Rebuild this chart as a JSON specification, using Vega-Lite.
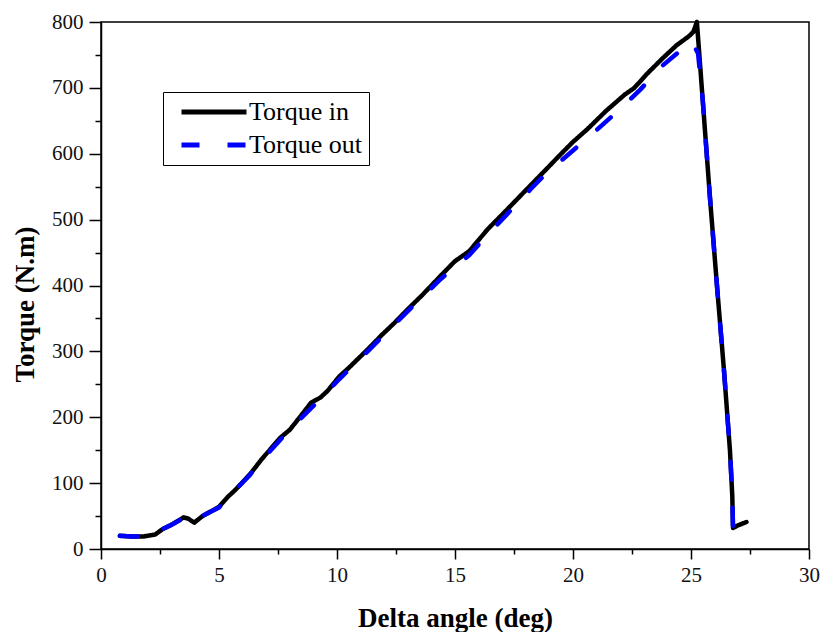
{
  "$schema": "https://vega.github.io/schema/vega-lite/v6.json",
  "autosize": {"type": "none"},
  "padding": {"left": 101, "top": 22, "right": 13, "bottom": 83},
  "width": 708,
  "height": 527,
  "background": "white",
  "config": {
    "font": "Liberation Serif",
    "view": {"stroke": "black", "strokeWidth": 1.5},
    "axis": {
      "grid": false,
      "domainColor": "black",
      "domainWidth": 1.5,
      "tickColor": "black",
      "tickWidth": 1.5,
      "labelFont": "Liberation Serif",
      "labelFontSize": 21,
      "labelColor": "#111",
      "titleFont": "Liberation Serif",
      "titleFontSize": 27,
      "titleFontWeight": "bold",
      "titleColor": "black"
    }
  },
  "datasets": {
    "torque": [
      {"a": 0.8, "t": 20, "s": "Torque in"},
      {"a": 1.3, "t": 19, "s": "Torque in"},
      {"a": 1.8, "t": 19, "s": "Torque in"},
      {"a": 2.3, "t": 22, "s": "Torque in"},
      {"a": 2.6, "t": 30, "s": "Torque in"},
      {"a": 3.0, "t": 37, "s": "Torque in"},
      {"a": 3.5, "t": 48, "s": "Torque in"},
      {"a": 3.7, "t": 46, "s": "Torque in"},
      {"a": 3.95, "t": 40, "s": "Torque in"},
      {"a": 4.3, "t": 50, "s": "Torque in"},
      {"a": 5.0, "t": 64, "s": "Torque in"},
      {"a": 5.4, "t": 80, "s": "Torque in"},
      {"a": 5.7, "t": 90, "s": "Torque in"},
      {"a": 6.3, "t": 113, "s": "Torque in"},
      {"a": 6.5, "t": 122, "s": "Torque in"},
      {"a": 6.8, "t": 136, "s": "Torque in"},
      {"a": 7.6, "t": 169, "s": "Torque in"},
      {"a": 8.0, "t": 181, "s": "Torque in"},
      {"a": 8.4, "t": 199, "s": "Torque in"},
      {"a": 8.9, "t": 222, "s": "Torque in"},
      {"a": 9.3, "t": 230, "s": "Torque in"},
      {"a": 9.6, "t": 240, "s": "Torque in"},
      {"a": 10.1, "t": 262, "s": "Torque in"},
      {"a": 10.5, "t": 275, "s": "Torque in"},
      {"a": 11.3, "t": 303, "s": "Torque in"},
      {"a": 11.9, "t": 325, "s": "Torque in"},
      {"a": 12.4, "t": 342, "s": "Torque in"},
      {"a": 13.0, "t": 364, "s": "Torque in"},
      {"a": 13.6, "t": 385, "s": "Torque in"},
      {"a": 14.4, "t": 415, "s": "Torque in"},
      {"a": 15.0, "t": 437, "s": "Torque in"},
      {"a": 15.6, "t": 452, "s": "Torque in"},
      {"a": 16.4, "t": 486, "s": "Torque in"},
      {"a": 17.2, "t": 515, "s": "Torque in"},
      {"a": 18.2, "t": 552, "s": "Torque in"},
      {"a": 18.8, "t": 574, "s": "Torque in"},
      {"a": 19.5, "t": 600, "s": "Torque in"},
      {"a": 20.0, "t": 618, "s": "Torque in"},
      {"a": 20.6, "t": 637, "s": "Torque in"},
      {"a": 21.4, "t": 665, "s": "Torque in"},
      {"a": 22.2, "t": 690, "s": "Torque in"},
      {"a": 22.6, "t": 700, "s": "Torque in"},
      {"a": 23.1, "t": 720, "s": "Torque in"},
      {"a": 23.8, "t": 745, "s": "Torque in"},
      {"a": 24.4, "t": 765, "s": "Torque in"},
      {"a": 24.9, "t": 778, "s": "Torque in"},
      {"a": 25.1, "t": 785, "s": "Torque in"},
      {"a": 25.25, "t": 800, "s": "Torque in"},
      {"a": 25.5, "t": 680, "s": "Torque in"},
      {"a": 25.8, "t": 535, "s": "Torque in"},
      {"a": 26.1, "t": 400, "s": "Torque in"},
      {"a": 26.4, "t": 270, "s": "Torque in"},
      {"a": 26.65, "t": 150, "s": "Torque in"},
      {"a": 26.75, "t": 80, "s": "Torque in"},
      {"a": 26.78, "t": 32, "s": "Torque in"},
      {"a": 27.0, "t": 36, "s": "Torque in"},
      {"a": 27.35, "t": 41, "s": "Torque in"},

      {"a": 0.8, "t": 20, "s": "Torque out"},
      {"a": 1.3, "t": 19, "s": "Torque out"},
      {"a": 1.8, "t": 19, "s": "Torque out"},
      {"a": 2.3, "t": 22, "s": "Torque out"},
      {"a": 2.6, "t": 30, "s": "Torque out"},
      {"a": 3.0, "t": 37, "s": "Torque out"},
      {"a": 3.5, "t": 47, "s": "Torque out"},
      {"a": 3.95, "t": 41, "s": "Torque out"},
      {"a": 4.3, "t": 50, "s": "Torque out"},
      {"a": 5.0, "t": 63, "s": "Torque out"},
      {"a": 5.7, "t": 90, "s": "Torque out"},
      {"a": 6.3, "t": 112, "s": "Torque out"},
      {"a": 6.8, "t": 134, "s": "Torque out"},
      {"a": 7.6, "t": 166, "s": "Torque out"},
      {"a": 8.4, "t": 196, "s": "Torque out"},
      {"a": 9.3, "t": 228, "s": "Torque out"},
      {"a": 10.1, "t": 258, "s": "Torque out"},
      {"a": 11.3, "t": 300, "s": "Torque out"},
      {"a": 12.4, "t": 340, "s": "Torque out"},
      {"a": 13.6, "t": 382, "s": "Torque out"},
      {"a": 14.4, "t": 410, "s": "Torque out"},
      {"a": 15.6, "t": 446, "s": "Torque out"},
      {"a": 16.4, "t": 478, "s": "Torque out"},
      {"a": 17.2, "t": 508, "s": "Torque out"},
      {"a": 18.2, "t": 546, "s": "Torque out"},
      {"a": 18.8, "t": 568, "s": "Torque out"},
      {"a": 20.0, "t": 605, "s": "Torque out"},
      {"a": 21.0, "t": 636, "s": "Torque out"},
      {"a": 22.0, "t": 668, "s": "Torque out"},
      {"a": 22.84, "t": 697, "s": "Torque out"},
      {"a": 23.8, "t": 734, "s": "Torque out"},
      {"a": 24.5, "t": 755, "s": "Torque out"},
      {"a": 25.05, "t": 770, "s": "Torque out"},
      {"a": 25.3, "t": 752, "s": "Torque out"},
      {"a": 25.5, "t": 680, "s": "Torque out"},
      {"a": 25.8, "t": 535, "s": "Torque out"},
      {"a": 26.1, "t": 400, "s": "Torque out"},
      {"a": 26.4, "t": 270, "s": "Torque out"},
      {"a": 26.65, "t": 150, "s": "Torque out"},
      {"a": 26.75, "t": 80, "s": "Torque out"},
      {"a": 26.78, "t": 32, "s": "Torque out"},
      {"a": 27.0, "t": 36, "s": "Torque out"},
      {"a": 27.35, "t": 41, "s": "Torque out"}
    ]
  },
  "data": {"name": "torque"},
  "encoding": {
    "x": {
      "field": "a",
      "type": "quantitative",
      "scale": {"domain": [0, 30], "nice": false, "zero": false},
      "axis": {
        "title": "Delta angle (deg)",
        "values": [0, 2.5, 5, 7.5, 10, 12.5, 15, 17.5, 20, 22.5, 25, 27.5, 30],
        "labelExpr": "datum.value % 5 === 0 ? datum.label : ''",
        "tickSize": {"condition": {"test": "datum.value % 5 === 0", "value": 10}, "value": 5},
        "labelFont": "Liberation Serif",
        "labelFontSize": 21,
        "labelPadding": 5,
        "titleX": 354,
        "titleY": 77,
        "titleAlign": "center",
        "titleBaseline": "alphabetic",
        "labelFlush": false,
        "encode": {"labels": {"update": {"font": {"value": "Liberation Serif"}}}}
      }
    },
    "y": {
      "field": "t",
      "type": "quantitative",
      "scale": {"domain": [0, 800], "nice": false},
      "axis": {
        "title": "Torque (N.m)",
        "values": [0, 50, 100, 150, 200, 250, 300, 350, 400, 450, 500, 550, 600, 650, 700, 750, 800],
        "labelExpr": "datum.value % 100 === 0 ? datum.label : ''",
        "tickSize": {"condition": {"test": "datum.value % 100 === 0", "value": 12}, "value": 6},
        "labelFont": "Liberation Serif",
        "labelFontSize": 21,
        "labelPadding": 6,
        "titleX": -76,
        "titleY": 282,
        "titleAlign": "center",
        "titleBaseline": "middle",
        "titleAngle": -90,
        "labelFlush": false,
        "encode": {"labels": {"update": {"font": {"value": "Liberation Serif"}}}}
      }
    },
    "color": {
      "field": "s",
      "type": "nominal",
      "scale": {"domain": ["Torque in", "Torque out"], "range": ["#000000", "#0000ff"]},
      "legend": {
        "title": null,
        "orient": "none",
        "legendX": 62,
        "legendY": 70,
        "strokeColor": "black",
        "fillColor": "white",
        "padding": 7,
        "symbolType": "M-3.25,0H3.25",
        "symbolSize": 400,
        "symbolOffset": 31,
        "symbolStrokeWidth": 5,
        "labelFont": "Liberation Serif",
        "labelFontSize": 26,
        "labelColor": "black",
        "labelOffset": 22,
        "rowPadding": 7,
        "labelLimit": 300
      }
    },
    "strokeDash": {
      "field": "s",
      "type": "nominal",
      "scale": {"domain": ["Torque in", "Torque out"], "range": [[1, 0], [18, 28]]},
      "legend": null
    }
  },
  "layer": [
    {
      "transform": [{"filter": "datum.s === 'Torque in'"}],
      "mark": {"type": "line", "strokeWidth": 4.5, "strokeCap": "round", "strokeJoin": "round"}
    },
    {
      "transform": [{"filter": "datum.s === 'Torque out'"}],
      "mark": {"type": "line", "strokeWidth": 4.5, "strokeCap": "round", "strokeJoin": "round"}
    }
  ]
}
